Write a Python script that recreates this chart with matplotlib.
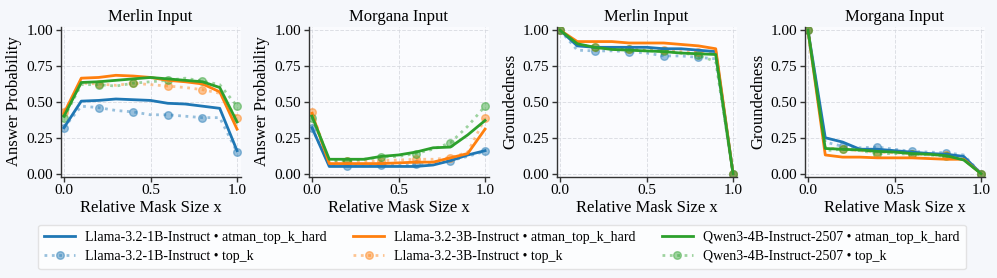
import numpy as np
import matplotlib
matplotlib.use("Agg")
from matplotlib import pyplot as plt
from matplotlib.lines import Line2D

plt.rcParams["font.family"] = ["Liberation Serif", "DejaVu Serif"]

# %%
x = [0.0, 0.1, 0.2, 0.3, 0.4, 0.5, 0.6, 0.7, 0.8, 0.9, 1.0]
models = ["Llama-3.2-1B-Instruct", "Llama-3.2-3B-Instruct", "Qwen3-4B-Instruct-2507"]
methods = ["atman_top_k_hard", "top_k"]
colors = ["#1f77b4", "#ff7f0e", "#2ca02c"]
titles = ["Merlin Input", "Morgana Input", "Merlin Input", "Morgana Input"]
ylabels = ["Answer Probability", "Answer Probability", "Groundedness", "Groundedness"]

# panel 1: Merlin answer probability
merlin_prob_1b_hard = [0.32, 0.505, 0.51, 0.52, 0.515, 0.51, 0.49, 0.485, 0.47, 0.455, 0.16]
merlin_prob_1b_topk = [0.32, 0.47, 0.46, 0.44, 0.43, 0.41, 0.41, 0.40, 0.39, 0.39, 0.15]
merlin_prob_3b_hard = [0.42, 0.665, 0.67, 0.685, 0.68, 0.67, 0.65, 0.64, 0.625, 0.57, 0.31]
merlin_prob_3b_topk = [0.43, 0.63, 0.625, 0.615, 0.63, 0.62, 0.61, 0.60, 0.585, 0.56, 0.385]
merlin_prob_qw_hard = [0.40, 0.635, 0.64, 0.65, 0.66, 0.67, 0.66, 0.65, 0.64, 0.60, 0.36]
merlin_prob_qw_topk = [0.39, 0.62, 0.62, 0.61, 0.63, 0.64, 0.65, 0.665, 0.645, 0.62, 0.47]

# panel 2: Morgana answer probability
morgana_prob_1b_hard = [0.32, 0.05, 0.05, 0.05, 0.05, 0.05, 0.05, 0.06, 0.09, 0.13, 0.16]
morgana_prob_1b_topk = [0.32, 0.06, 0.055, 0.055, 0.06, 0.06, 0.065, 0.07, 0.09, 0.12, 0.155]
morgana_prob_3b_hard = [0.42, 0.07, 0.07, 0.07, 0.07, 0.075, 0.08, 0.08, 0.11, 0.14, 0.31]
morgana_prob_3b_topk = [0.43, 0.08, 0.085, 0.085, 0.09, 0.095, 0.10, 0.10, 0.11, 0.15, 0.385]
morgana_prob_qw_hard = [0.40, 0.10, 0.10, 0.10, 0.12, 0.13, 0.15, 0.18, 0.185, 0.27, 0.37]
morgana_prob_qw_topk = [0.39, 0.09, 0.09, 0.10, 0.115, 0.12, 0.14, 0.17, 0.215, 0.33, 0.47]

# panel 3: Merlin groundedness
merlin_gr_1b_hard = [1.0, 0.89, 0.88, 0.88, 0.88, 0.88, 0.87, 0.87, 0.86, 0.85, 0.0]
merlin_gr_1b_topk = [1.0, 0.86, 0.855, 0.855, 0.85, 0.84, 0.82, 0.82, 0.81, 0.80, 0.0]
merlin_gr_3b_hard = [1.0, 0.92, 0.92, 0.92, 0.91, 0.91, 0.91, 0.90, 0.89, 0.87, 0.0]
merlin_gr_3b_topk = [1.0, 0.90, 0.88, 0.87, 0.87, 0.86, 0.86, 0.85, 0.85, 0.84, 0.0]
merlin_gr_qw_hard = [1.0, 0.905, 0.88, 0.865, 0.86, 0.855, 0.85, 0.84, 0.835, 0.83, 0.0]
merlin_gr_qw_topk = [1.0, 0.90, 0.88, 0.87, 0.865, 0.855, 0.855, 0.84, 0.825, 0.78, 0.0]

# panel 4: Morgana groundedness
morgana_gr_1b_hard = [1.0, 0.25, 0.22, 0.17, 0.17, 0.16, 0.15, 0.14, 0.135, 0.12, 0.0]
morgana_gr_1b_topk = [1.0, 0.22, 0.19, 0.18, 0.185, 0.17, 0.155, 0.15, 0.145, 0.13, 0.0]
morgana_gr_3b_hard = [1.0, 0.13, 0.115, 0.115, 0.11, 0.11, 0.11, 0.105, 0.10, 0.10, 0.0]
morgana_gr_3b_topk = [1.0, 0.18, 0.17, 0.16, 0.15, 0.145, 0.14, 0.13, 0.13, 0.11, 0.0]
morgana_gr_qw_hard = [1.0, 0.175, 0.17, 0.165, 0.155, 0.15, 0.14, 0.135, 0.125, 0.095, 0.0]
morgana_gr_qw_topk = [1.0, 0.16, 0.17, 0.16, 0.14, 0.14, 0.135, 0.13, 0.12, 0.10, 0.0]

panels = [
    [(merlin_prob_1b_hard, merlin_prob_1b_topk), (merlin_prob_3b_hard, merlin_prob_3b_topk), (merlin_prob_qw_hard, merlin_prob_qw_topk)],
    [(morgana_prob_1b_hard, morgana_prob_1b_topk), (morgana_prob_3b_hard, morgana_prob_3b_topk), (morgana_prob_qw_hard, morgana_prob_qw_topk)],
    [(merlin_gr_1b_hard, merlin_gr_1b_topk), (merlin_gr_3b_hard, merlin_gr_3b_topk), (merlin_gr_qw_hard, merlin_gr_qw_topk)],
    [(morgana_gr_1b_hard, morgana_gr_1b_topk), (morgana_gr_3b_hard, morgana_gr_3b_topk), (morgana_gr_qw_hard, morgana_gr_qw_topk)],
]

# %%
BG = "#f5f7fb"
fig = plt.figure(figsize=(9.97, 2.78), dpi=100, facecolor=BG)

lefts = [60.5, 308.5, 556.5, 804.5]
W, H = 997.0, 278.0
for i in range(4):
    ax = fig.add_axes([lefts[i] / W, (H - 176.5) / H, 180 / W, 150 / H])
    ax.set_facecolor("#fafbfe")
    for m in range(3):
        hard, topk = panels[i][m]
        ax.plot(x, hard, color=colors[m], lw=2, zorder=3)
        ax.plot(x, topk, color=colors[m], lw=2, ls=":", marker="o", ms=5.5,
                markevery=2, alpha=0.45, zorder=2)
    ax.set_xlim(-0.02, 1.02)
    ax.set_ylim(-0.02, 1.025)
    ax.set_xticks([0.0, 0.5, 1.0])
    ax.set_yticks([0.0, 0.25, 0.5, 0.75, 1.0])
    ax.set_yticklabels(["0.00", "0.25", "0.50", "0.75", "1.00"])
    ax.grid(True, ls="--", lw=0.7, color="#d5d8de", alpha=0.8)
    ax.set_axisbelow(True)
    for s in ["top", "right"]:
        ax.spines[s].set_visible(False)
    for s in ["left", "bottom"]:
        ax.spines[s].set_color("#333333")
        ax.spines[s].set_linewidth(1.0)
    ax.tick_params(labelsize=11, length=3.5, width=1, color="#333333", pad=2)
    ax.set_title(titles[i], fontsize=12, pad=4)
    ax.set_ylabel(ylabels[i], fontsize=12, labelpad=3)
    ax.set_xlabel("Relative Mask Size x", fontsize=12, labelpad=2)

# legend proxies (column-major order: hard then top_k per model)
handles, labels = [], []
for m in range(3):
    handles.append(Line2D([], [], color=colors[m], lw=2))
    labels.append(models[m] + " \u2022 " + methods[0])
    handles.append(Line2D([], [], color=colors[m], lw=2, ls=":", marker="o", ms=5.5, alpha=0.45))
    labels.append(models[m] + " \u2022 " + methods[1])

leg = fig.legend(handles, labels, ncol=3, numpoints=1,
                 loc="center", bbox_to_anchor=(502 / W, (H - 247) / H),
                 fontsize=10, frameon=True, handlelength=2.2, columnspacing=1.9,
                 handletextpad=0.75, borderpad=0.45, labelspacing=0.45,
                 fancybox=True)
leg.get_frame().set_facecolor("white")
leg.get_frame().set_edgecolor("#dddddd")

plt.savefig("out.png", dpi=100, facecolor=BG)
